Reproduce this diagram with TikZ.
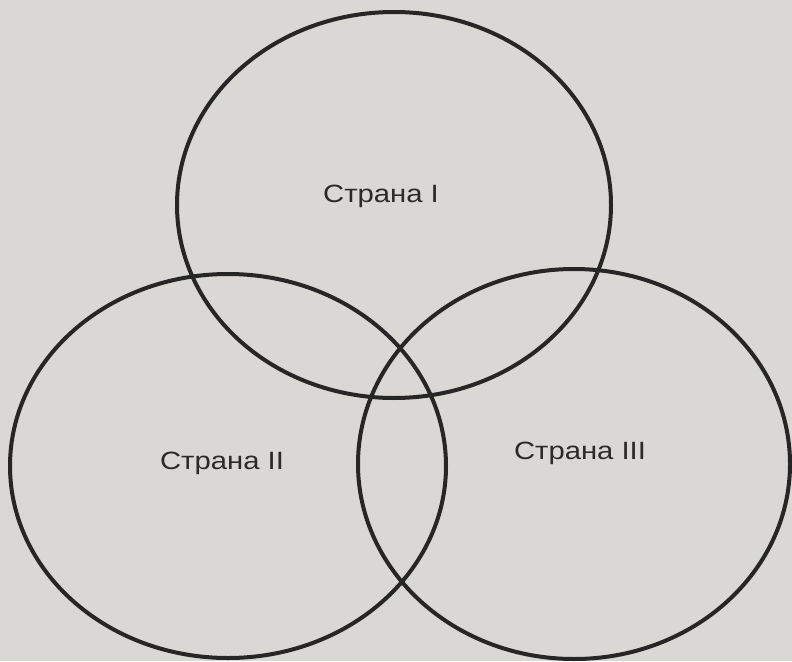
\documentclass[tikz,border=0pt]{standalone}
\usepackage{fontspec}
\setmainfont{Liberation Sans}
\definecolor{paper}{HTML}{DAD8D4}
\definecolor{ink}{HTML}{262626}
\definecolor{txt}{HTML}{2A2A2A}
\begin{document}
\begin{tikzpicture}[x=1pt,y=-1pt,
  ring/.style={draw=ink,line width=4pt},
  lbl/.style={text=txt,font=\fontsize{25}{28}\selectfont,inner sep=0pt,xscale=1.17}]
\fill[paper] (0,0) rectangle (792,661);
\useasboundingbox (0,0) rectangle (792,661);
\draw[ring] (394,205) ellipse [x radius=217, y radius=193];
\draw[ring] (228,466) ellipse [x radius=218, y radius=192];
\draw[ring] (574,464) ellipse [x radius=216, y radius=195];
\node[lbl] (c1) at (381,196) {Страна I};
\node[lbl] (c2) at (222,463) {Страна II};
\node[lbl] (c3) at (580,453) {Страна III};
\end{tikzpicture}
\end{document}
